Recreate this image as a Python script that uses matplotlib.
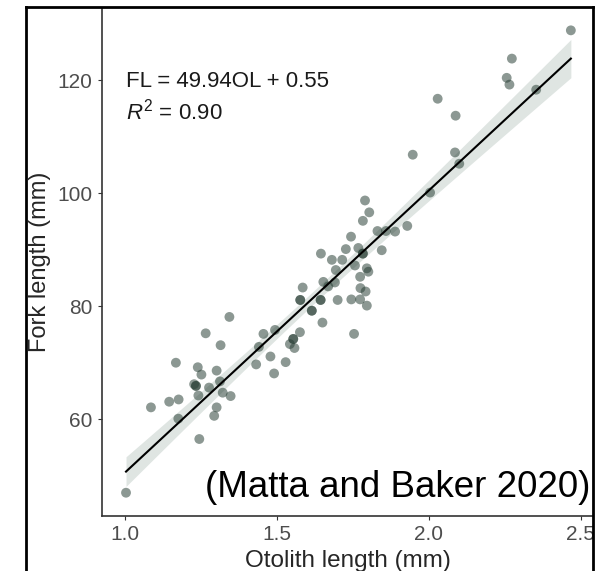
import numpy as np
import matplotlib
matplotlib.use("Agg")
import matplotlib.pyplot as plt
from matplotlib.lines import Line2D
from matplotlib.patches import Rectangle

plt.rcParams['font.family'] = ['Liberation Sans', 'DejaVu Sans']
plt.rcParams['mathtext.fontset'] = 'custom'
plt.rcParams['mathtext.rm'] = 'Liberation Sans'
plt.rcParams['mathtext.it'] = 'Liberation Sans:italic'

# ---- data ----
otolith_length = [1.005, 1.087, 1.147, 1.178, 1.177, 1.169, 1.241, 1.253, 1.303, 1.235, 1.243,
                  1.278, 1.314, 1.323, 1.349, 1.303, 1.295, 1.246, 1.267, 1.345, 1.316, 1.229,
                  1.433, 1.457, 1.492, 1.480, 1.530, 1.442, 1.495, 1.544, 1.555, 1.577, 1.559,
                  1.578, 1.586, 1.616, 1.645, 1.651, 1.670, 1.701, 1.646, 1.682, 1.716, 1.654,
                  1.692, 1.746, 1.775, 1.755, 1.775, 1.797, 1.793, 1.776, 1.802, 1.784, 1.769,
                  1.758, 1.846, 1.695, 1.797, 1.728, 1.745, 1.791, 1.805, 1.784, 1.832, 1.860,
                  1.890, 1.930, 2.005, 1.948, 2.030, 2.089, 2.087, 2.101, 2.257, 2.266, 2.274,
                  2.354, 2.468,
                  1.578, 1.645, 1.616, 1.555, 1.784, 1.235]
fork_length = [47.0, 62.1, 63.1, 63.5, 60.1, 70.0, 69.2, 67.9, 68.6, 65.9, 64.2,
               65.6, 66.7, 64.7, 64.1, 62.1, 60.6, 56.5, 75.2, 78.1, 73.1, 66.2,
               69.7, 75.1, 68.1, 71.1, 70.1, 72.8, 75.8, 73.3, 74.2, 75.4, 72.6,
               81.1, 83.3, 79.2, 81.1, 77.1, 83.5, 81.1, 89.3, 88.2, 88.2, 84.3,
               84.2, 81.2, 81.2, 75.1, 85.2, 80.1, 82.6, 83.2, 86.1, 89.3, 90.3,
               87.2, 89.9, 86.4, 86.7, 90.1, 92.3, 98.7, 96.6, 95.1, 93.3, 93.3,
               93.2, 94.2, 100.1, 106.8, 116.7, 113.7, 107.2, 105.2, 120.4, 119.2, 123.8,
               118.3, 128.8,
               81.1, 81.1, 79.2, 74.2, 89.3, 65.9]
slope = 49.94
intercept = 0.55
x_ticks = [1.0, 1.5, 2.0, 2.5]
x_tick_labels = ["1.0", "1.5", "2.0", "2.5"]
y_ticks = [60, 80, 100, 120]
y_tick_labels = ["60", "80", "100", "120"]

x = np.array(otolith_length)
y = np.array(fork_length)

W, H = 602, 571
fig = plt.figure(figsize=(W / 100, H / 100), dpi=100)

ax_l, ax_r, ax_t, ax_b = 102, 597, 8.3, 515.5
ax = fig.add_axes([ax_l / W, 1 - ax_b / H, (ax_r - ax_l) / W, (ax_b - ax_t) / H])

# regression line and 95% band
xs = np.linspace(x.min(), x.max(), 200)
fit = slope * xs + intercept
n = len(x)
resid = y - (slope * x + intercept)
s = np.sqrt(np.sum(resid ** 2) / (n - 2))
sxx = np.sum((x - x.mean()) ** 2)
se = s * np.sqrt(1 / n + (xs - x.mean()) ** 2 / sxx)
tval = 1.99
ax.fill_between(xs, fit - tval * se, fit + tval * se, color='#dfe5e2', lw=0, zorder=1)
ax.plot(xs, fit, color='black', lw=1.5, zorder=3)

ax.scatter(x, y, s=50, color='#263d33', alpha=0.53, edgecolors='none', zorder=2)

ax.set_xlim(0.926, 2.554)
ax.set_ylim(42.97, 132.7)
ax.set_xticks(x_ticks)
ax.set_xticklabels(x_tick_labels)
ax.set_yticks(y_ticks)
ax.set_yticklabels(y_tick_labels)
for sp in ['top', 'right']:
    ax.spines[sp].set_visible(False)
for sp in ['left', 'bottom']:
    ax.spines[sp].set_color('#333333')
    ax.spines[sp].set_linewidth(1.2)
ax.tick_params(axis='both', direction='out', length=3, width=0.8, color='#333333',
               labelsize=15, labelcolor='#4d4d4d', pad=4)

# annotations
fig.text(126 / W, 1 - 87 / H, "FL = 49.94OL + 0.55", fontsize=16, color='#1a1a1a',
         ha='left', va='baseline')
fig.text(126 / W, 1 - 120 / H, r"$R^2$ = 0.90", fontsize=16, color='#1a1a1a',
         ha='left', va='baseline')
fig.text(590 / W, 1 - 497 / H, "(Matta and Baker 2020)", fontsize=26.5, color='black',
         ha='right', va='baseline')

# axis titles
fig.text(40 / W, 1 - 262 / H, "Fork length (mm)", rotation=90, fontsize=17,
         color='#262626', ha='center', va='center')
fig.text(348 / W, 1 - 561 / H, "Otolith length (mm)", fontsize=17.5,
         color='#262626', ha='center', va='center')

# screenshot frame
fig.patches.append(Rectangle((594 / W, 0), 1, 1, transform=fig.transFigure,
                             facecolor='white', edgecolor='none', zorder=10))
frame_kw = dict(transform=fig.transFigure, color='black', lw=2, zorder=11)
fig.lines.append(Line2D([26 / W, 26 / W], [0, 1 - 7 / H], **frame_kw))
fig.lines.append(Line2D([26 / W, 593 / W], [1 - 7 / H, 1 - 7 / H], **frame_kw))
fig.lines.append(Line2D([593 / W, 593 / W], [0, 1 - 7 / H], **frame_kw))

fig.savefig("out.png", dpi=100)
